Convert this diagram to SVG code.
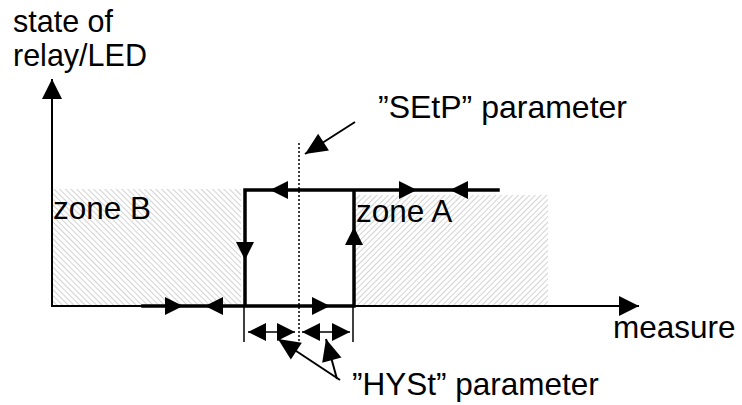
<svg xmlns="http://www.w3.org/2000/svg" width="742" height="405" viewBox="0 0 742 405">
  <style>
    text { font-family: "Liberation Sans", Arial, sans-serif; font-size: 31.5px; fill: #000; }
    .ylab { font-size: 30.5px; }
    .axis { stroke: #000; stroke-width: 2; fill: none; }
    .loop { stroke: #000; stroke-width: 3.5; fill: none; stroke-linecap: square; }
    .thin { stroke: #000; stroke-width: 1.5; fill: none; }
    .ptr { stroke: #000; stroke-width: 2; fill: none; }
    .dot { stroke: #000; stroke-width: 1.5; stroke-dasharray: 2 2; fill: none; }
    .head { fill: #000; }
  </style>
  <defs>
    <pattern id="hatchA" patternUnits="userSpaceOnUse" width="4" height="4" patternTransform="rotate(45)">
      <line x1="0" y1="0" x2="0" y2="4" stroke="#b4b4b4" stroke-width="1.2"/>
    </pattern>
    <pattern id="hatchB" patternUnits="userSpaceOnUse" width="4" height="4" patternTransform="rotate(-45)">
      <line x1="0" y1="0" x2="0" y2="4" stroke="#b4b4b4" stroke-width="1.2"/>
    </pattern>
    <path id="tri" d="M0,0 L-18,-9 L-18,9 Z"/>
    <marker id="axisHead" markerUnits="userSpaceOnUse" markerWidth="24" markerHeight="24" viewBox="-22 -12 24 24" refX="0" refY="0" orient="auto">
      <path d="M0,0 L-20,-10 L-20,10 Z" fill="#000"/>
    </marker>
    <marker id="ptrHead" markerUnits="userSpaceOnUse" markerWidth="26" markerHeight="26" viewBox="-24 -13 26 26" refX="0" refY="0" orient="auto">
      <path d="M0,0 L-22,-10 L-22,10 Z" fill="#000"/>
    </marker>
  </defs>

  <g id="zones">
    <rect x="53" y="189" width="188" height="117" fill="url(#hatchB)"/>
    <rect x="355" y="195" width="193" height="111" fill="url(#hatchA)"/>
  </g>

  <g id="axes">
    <line class="axis" x1="52" y1="307" x2="52" y2="79" marker-end="url(#axisHead)"/>
    <line class="axis" x1="52" y1="306" x2="639" y2="306" marker-end="url(#axisHead)"/>
  </g>

  <g id="connectors">
    <path class="loop" d="M143,306 H354 V190 M245,306 V190 H498"/>
    <g class="head">
      <use href="#tri" transform="translate(183,306)"/>
      <use href="#tri" transform="translate(205,306) rotate(180)"/>
      <use href="#tri" transform="translate(330,306)"/>
      <use href="#tri" transform="translate(245,260) rotate(90)"/>
      <use href="#tri" transform="translate(354,227) rotate(-90)"/>
      <use href="#tri" transform="translate(270,190) rotate(180)"/>
      <use href="#tri" transform="translate(417,190)"/>
      <use href="#tri" transform="translate(450,190) rotate(180)"/>
    </g>
    <line class="dot" x1="299" y1="143" x2="299" y2="345"/>
    <line class="thin" x1="244" y1="306" x2="244" y2="342"/>
    <line class="thin" x1="353" y1="306" x2="353" y2="342"/>
    <line class="thin" x1="248" y1="332" x2="295" y2="332"/>
    <line class="thin" x1="302" y1="332" x2="350" y2="332"/>
    <g class="head">
      <use href="#tri" transform="translate(248,332) rotate(180)"/>
      <use href="#tri" transform="translate(295,332)"/>
      <use href="#tri" transform="translate(302,332) rotate(180)"/>
      <use href="#tri" transform="translate(350,332)"/>
    </g>
    <line class="ptr" x1="355" y1="122" x2="305" y2="154" marker-end="url(#ptrHead)"/>
    <line class="ptr" x1="340" y1="380" x2="278" y2="339" marker-end="url(#ptrHead)"/>
    <line class="ptr" x1="337" y1="379" x2="326" y2="339" marker-end="url(#ptrHead)"/>
  </g>

  <g id="labels">
    <text class="ylab" x="13" y="32">state of</text>
    <text class="ylab" x="13" y="66">relay/LED</text>
    <text x="378" y="118" style="font-size:32px">”SEtP” parameter</text>
    <text x="53" y="219">zone B</text>
    <text x="356" y="222">zone A</text>
    <text x="613" y="338">measure</text>
    <text x="352" y="395">”HYSt” parameter</text>
  </g>
</svg>
